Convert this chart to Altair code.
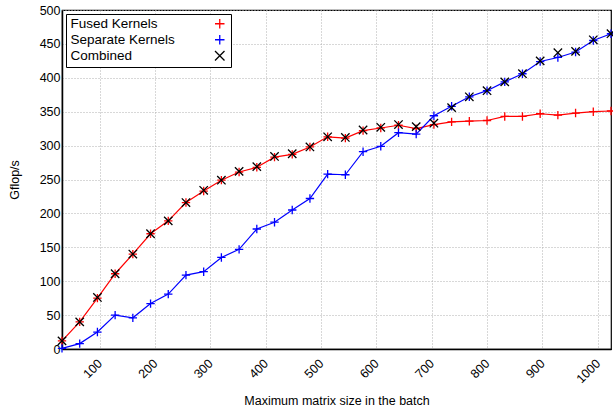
import altair as alt
import pandas as pd

sizes = [32 * i for i in range(1, 33)]
fused = [12, 40, 75, 111, 140, 170, 189, 216, 233, 249, 261, 268, 283, 287, 298, 313,
         311, 322, 326, 330, 325, 331, 335, 336, 337, 343, 343, 347, 345, 348, 350, 351]
separate = [1, 8, 25, 50, 46, 67, 81, 109, 114, 135, 147, 177, 187, 205, 222, 258,
            257, 291, 299, 319, 317, 344, 358, 372, 381, 394, 406, 424, 430, 438, 455, 465]
combined = [12, 40, 76, 111, 140, 170, 189, 216, 234, 249, 262, 269, 284, 288, 298, 313,
            312, 323, 327, 331, 328, 333, 356, 372, 381, 394, 406, 425, 437, 439, 456, 465]
series_names = ["Fused Kernels", "Separate Kernels", "Combined"]
x_ticks = [100, 200, 300, 400, 500, 600, 700, 800, 900, 1000]
y_ticks = [0, 50, 100, 150, 200, 250, 300, 350, 400, 450, 500]

rows = []
for name, vals in zip(series_names, [fused, separate, combined]):
    for s, v in zip(sizes, vals):
        rows.append({"size": s, "gflops": v, "series": name})
df = pd.DataFrame(rows)

PLUS = "M-1,0L1,0M0,-1L0,1"
XMARK = "M-1,-1L1,1M-1,1L1,-1"

color = alt.Color(
    "series:N",
    scale=alt.Scale(domain=series_names, range=["#ff0000", "#0000ff", "#000000"]),
    legend=alt.Legend(
        title=None, orient="top-left", offset=4,
        fillColor="white", strokeColor="black", padding=3,
        labelFontSize=13.5, labelFont="Liberation Sans", labelColor="#000000",
        symbolOffset=144, labelOffset={"expr": "-156"}, rowPadding=0,
        symbolSize=90, symbolStrokeWidth=1.3,
    ),
)
shape = alt.Shape(
    "series:N",
    scale=alt.Scale(domain=series_names, range=[PLUS, PLUS, XMARK]),
    legend=None,
)

xenc = alt.X(
    "size:Q",
    title="Maximum matrix size in the batch",
    scale=alt.Scale(domain=[32, 1024], nice=False, zero=False),
    axis=alt.Axis(values=x_ticks, format="d", labelAngle=-45, labelAlign="right",
                  labelBaseline="middle", labelPadding=12, titlePadding=9),
)
yenc = alt.Y(
    "gflops:Q",
    title="Gflop/s",
    scale=alt.Scale(domain=[0, 500], nice=False),
    axis=alt.Axis(values=y_ticks, titlePadding=18),
)

lines = alt.Chart(df).transform_filter(
    alt.FieldOneOfPredicate(field="series", oneOf=["Fused Kernels", "Separate Kernels"])
).mark_line(strokeWidth=1.2).encode(x=xenc, y=yenc, color=color)

points = alt.Chart(df).mark_point(filled=False, size=70, strokeWidth=1.3, opacity=1).encode(
    x=xenc, y=yenc, color=color, shape=shape
)

chart = (
    alt.layer(lines, points)
    .properties(width=549, height=339, padding={"left": 62, "top": 10, "right": 2, "bottom": 60},
                autosize=alt.AutoSizeParams(type="none"))
    .configure_view(stroke="black", strokeWidth=1.2)
    .configure_axis(
        labelFont="Liberation Sans", titleFont="Liberation Sans",
        labelFontSize=12.5, titleFontSize=12.5, titleFontWeight="normal",
        labelColor="#000000", titleColor="#000000",
        ticks=False, domainColor="black", domainWidth=1.5,
        gridColor="#b0b0b0", gridDash=[1, 2], gridWidth=1, gridOpacity=1,
    )
)

chart.save("out.html", embed_options={"renderer": "svg", "actions": False})
